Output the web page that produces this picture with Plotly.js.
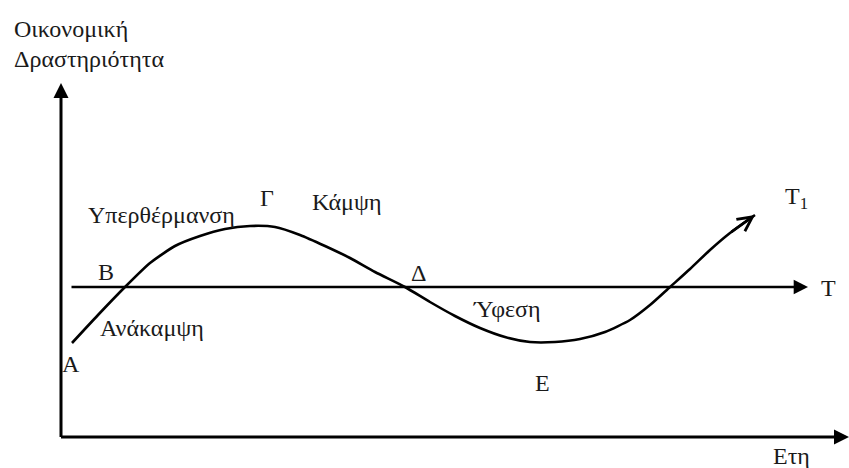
<!DOCTYPE html>
<html>
<head>
<meta charset="utf-8">
<script src="https://cdn.plot.ly/plotly-3.0.1.min.js"></script>
<style>html,body{margin:0;padding:0;background:#fff;}#chart{width:849px;height:468px;}</style>
</head>
<body>
<div id="chart"></div>
<script>
// Business cycle curve (x = time, y = economic activity)
var cycleX = [11, 37, 64, 89, 114, 139, 164, 189, 214, 239, 264, 289, 314, 344, 369, 394, 419, 444, 469, 494, 519, 544, 569, 589, 609, 629, 649, 669, 694];
var cycleY = [94, 122, 150, 174, 191, 201, 208, 211, 210, 202, 191, 179, 165, 150, 135, 121, 109, 100, 95, 95, 98, 105, 117, 132, 150, 168, 187, 204, 222];
// Long-run trend line T
var trendX = [9, 747];
var trendY = [150, 150];
// Axis extents
var axisXMax = 788;
var axisYMax = 354;
// Labels
var labelText = ['Οικονομική', 'Δραστηριότητα', 'Υπερθέρμανση', 'Γ', 'Κάμψη', 'Β', 'Δ', 'Ανάκαμψη', 'Α', 'Ύφεση', 'Ε', 'Τ<sub>1</sub>', 'Τ', 'Ετη'];
var labelX = [-49, -49, 100, 206, 285, 45, 357, 91, 10, 446, 481, 735, 767, 730];
var labelY = [408, 378, 222, 239, 235, 165, 164, 109, 73, 128, 54, 239, 149, -19];

var SERIF = 'Liberation Serif, DejaVu Serif, serif';
var FONT = {family: SERIF, size: 24, color: '#1a1a1a'};

var traces = [{
  type: 'scatter', mode: 'lines', x: cycleX, y: cycleY,
  line: {color: '#000', width: 2.6, shape: 'spline', smoothing: 0.6},
  hoverinfo: 'skip', showlegend: false
}];

var annotations = [];
// vertical axis
annotations.push({x: 0, y: axisYMax, ax: 0, ay: -1.5, xref: 'x', yref: 'y', axref: 'x', ayref: 'y',
  showarrow: true, arrowhead: 2, arrowsize: 1, arrowwidth: 3, arrowcolor: '#000', text: ''});
// horizontal axis
annotations.push({x: axisXMax, y: 0, ax: -1.5, ay: 0, xref: 'x', yref: 'y', axref: 'x', ayref: 'y',
  showarrow: true, arrowhead: 2, arrowsize: 1, arrowwidth: 3, arrowcolor: '#000', text: ''});
// trend line T
annotations.push({x: trendX[1], y: trendY[1], ax: trendX[0], ay: trendY[0], xref: 'x', yref: 'y', axref: 'x', ayref: 'y',
  showarrow: true, arrowhead: 2, arrowsize: 1.1, arrowwidth: 2.6, arrowcolor: '#000', text: ''});
// arrowhead at the end of the cycle curve
var n = cycleX.length;
annotations.push({x: cycleX[n - 1], y: cycleY[n - 1], ax: cycleX[n - 2], ay: cycleY[n - 2], xref: 'x', yref: 'y', axref: 'x', ayref: 'y',
  showarrow: true, arrowhead: 5, arrowsize: 1.1, arrowwidth: 2.6, arrowcolor: '#000', text: ''});

for (var i = 0; i < labelText.length; i++) {
  annotations.push({
    x: labelX[i], y: labelY[i], xref: 'x', yref: 'y', text: labelText[i], showarrow: false,
    xanchor: i < 2 ? 'left' : 'center', yanchor: 'middle', font: FONT
  });
}

var layout = {
  width: 849, height: 468,
  margin: {l: 0, r: 0, t: 0, b: 0, pad: 0},
  paper_bgcolor: '#fff', plot_bgcolor: '#fff',
  font: {family: SERIF, size: 24},
  xaxis: {range: [-61, 788], visible: false, fixedrange: true},
  yaxis: {range: [-31, 437], visible: false, fixedrange: true},
  showlegend: false,
  annotations: annotations
};

Plotly.newPlot('chart', traces, layout, {staticPlot: true, displayModeBar: false});
</script>
</body>
</html>
